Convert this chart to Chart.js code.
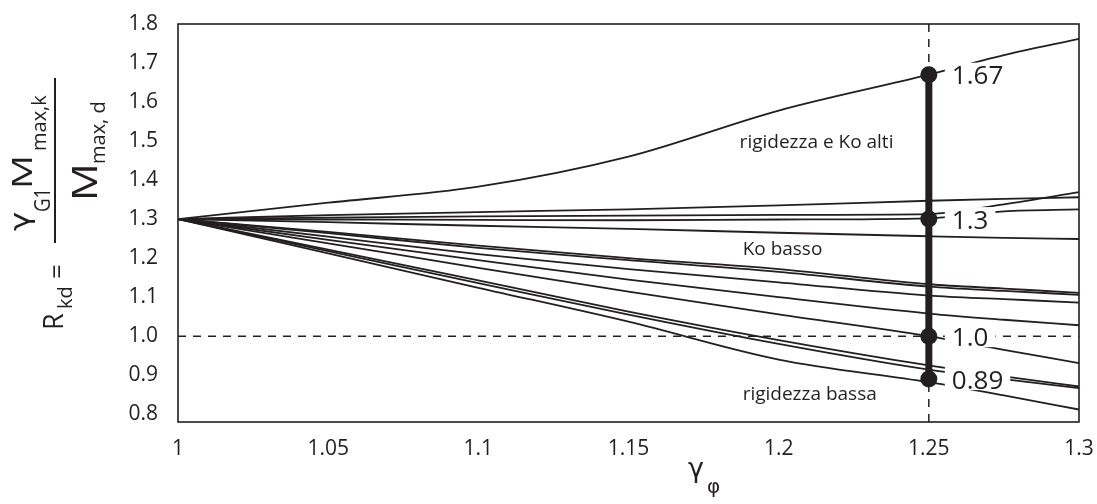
<!DOCTYPE html>
<html lang="it">
<head>
    <meta charset="UTF-8">
    <title>Rkd al variare di gamma phi</title>
    <script src="https://cdn.jsdelivr.net/npm/chart.js"></script>
    <style>
        body { margin: 0; background: #fff; }
    </style>
</head>
<body>
    <canvas id="rkdChart" width="1097" height="504"></canvas>

    <script>
        // gamma phi values where each curve was sampled
        const gammaPhi = [1, 1.05, 1.1, 1.15, 1.2, 1.25, 1.275, 1.3];

        // Rkd curves (top to bottom at gamma phi = 1.3)
        const rkdAlti   = [1.30, 1.342, 1.383, 1.46, 1.578, 1.67, 1.72, 1.762];
        const rkdB      = [1.30, 1.304, 1.307, 1.309, 1.311, 1.313, 1.338, 1.369];
        const rkdA      = [1.30, 1.31, 1.318, 1.325, 1.335, 1.347, 1.352, 1.356];
        const rkdC      = [1.30, 1.299, 1.298, 1.297, 1.299, 1.302, 1.32, 1.325];
        const rkdD      = [1.30, 1.292, 1.283, 1.275, 1.265, 1.256, 1.252, 1.249];
        const rkdE1     = [1.30, 1.267, 1.232, 1.20, 1.172, 1.133, 1.122, 1.111];
        const rkdE2     = [1.30, 1.264, 1.226, 1.195, 1.165, 1.127, 1.116, 1.106];
        const rkdF      = [1.30, 1.255, 1.21, 1.172, 1.138, 1.104, 1.095, 1.086];
        const rkdG      = [1.30, 1.247, 1.195, 1.145, 1.10, 1.058, 1.042, 1.028];
        const rkdH      = [1.30, 1.238, 1.175, 1.114, 1.056, 1.0, 0.965, 0.931];
        const rkdI      = [1.30, 1.222, 1.143, 1.063, 0.99, 0.925, 0.897, 0.871];
        const rkdJ      = [1.30, 1.218, 1.136, 1.055, 0.98, 0.914, 0.89, 0.867];
        const rkdBassa  = [1.30, 1.212, 1.124, 1.037, 0.94, 0.882, 0.848, 0.812];

        const curves = [rkdAlti, rkdB, rkdA, rkdC, rkdD, rkdE1, rkdE2, rkdF, rkdG, rkdH, rkdI, rkdJ, rkdBassa];

        // range marked at gamma phi = 1.25
        const markX = 1.25;
        const markValues = [0.89, 1.0, 1.3, 1.67];
        const markLabels = ['0.89', '1.0', '1.3', '1.67'];

        const refLine = 1.0;

        const xTicks = [1, 1.05, 1.1, 1.15, 1.2, 1.25, 1.3];
        const yTicks = [0.8, 0.9, 1.0, 1.1, 1.2, 1.3, 1.4, 1.5, 1.6, 1.7, 1.8];

        // text inside the plot: [text, gamma phi, Rkd]
        const notes = [
            ['rigidezza e Ko alti', 1.187, 1.495],
            ['Ko basso', 1.188, 1.221],
            ['rigidezza bassa', 1.188, 0.849]
        ];

        const ink = '#231f20';
        const font = '"Open Sans", sans-serif';
        const greek = '"DejaVu Sans", sans-serif';

        const toPoints = ys => gammaPhi.map((x, i) => ({ x: x, y: ys[i] }));

        const datasets = [];
        // thick bar with the four dots (drawn on top)
        datasets.push({
            data: markValues.map(v => ({ x: markX, y: v })),
            borderColor: ink,
            borderWidth: 7,
            pointRadius: 8.5,
            pointBackgroundColor: ink,
            pointBorderWidth: 0,
            tension: 0
        });
        curves.forEach(ys => {
            datasets.push({
                data: toPoints(ys),
                borderColor: ink,
                borderWidth: 1.8,
                pointRadius: 0,
                cubicInterpolationMode: 'monotone'
            });
        });
        // dashed reference lines
        datasets.push({
            data: [{ x: 1, y: refLine }, { x: 1.3, y: refLine }],
            borderColor: ink,
            borderWidth: 1.5,
            borderDash: [8, 7],
            pointRadius: 0
        });
        datasets.push({
            data: [{ x: markX, y: 0.78 }, { x: markX, y: 1.8 }],
            borderColor: ink,
            borderWidth: 1.5,
            borderDash: [8, 7],
            pointRadius: 0
        });

        function drawRot(ctx, s, size, Y, X, sx, family) {
            // rotated text: starts at screen y = Y and runs upward, baseline at screen x = X
            ctx.save();
            ctx.rotate(-Math.PI / 2);
            ctx.translate(-Y, X);
            ctx.scale(sx || 1, 1);
            ctx.font = size + 'px ' + (family || font);
            ctx.fillText(s, 0, 0);
            ctx.restore();
        }

        const decorations = {
            id: 'decorations',
            afterDatasetsDraw(chart) {
                const ctx = chart.ctx;
                const area = chart.chartArea;
                const xs = chart.scales.x;
                const ys = chart.scales.y;
                ctx.save();

                // value labels next to the dots
                ctx.font = '26px ' + font;
                ctx.textAlign = 'left';
                ctx.textBaseline = 'alphabetic';
                const px = xs.getPixelForValue(markX);
                markValues.forEach((v, i) => {
                    const py = ys.getPixelForValue(v);
                    const w = ctx.measureText(markLabels[i]).width;
                    ctx.fillStyle = '#fff';
                    ctx.fillRect(px + 16, py - 12, w + 14, 23);
                    ctx.fillStyle = ink;
                    ctx.fillText(markLabels[i], px + 23, py + 9.5);
                });

                // notes
                ctx.font = '19px ' + font;
                ctx.textBaseline = 'middle';
                notes.forEach(n => {
                    ctx.fillText(n[0], xs.getPixelForValue(n[1]), ys.getPixelForValue(n[2]));
                });

                // frame
                ctx.strokeStyle = ink;
                ctx.lineWidth = 1.6;
                ctx.strokeRect(area.left, area.top, area.right - area.left, area.bottom - area.top);

                // x title: gamma phi
                ctx.textBaseline = 'alphabetic';
                ctx.font = '27px ' + greek;
                ctx.fillText('γ', 688, 477);
                ctx.font = '20px ' + greek;
                ctx.fillText('φ', 707, 493);

                // y title: Rkd = gammaG1 Mmax,k / Mmax,d
                drawRot(ctx, 'R', 27, 330, 63);
                drawRot(ctx, 'kd', 20, 309, 72);
                drawRot(ctx, '=', 26, 279, 66);
                ctx.beginPath();
                ctx.moveTo(55, 243);
                ctx.lineTo(55, 78);
                ctx.lineWidth = 2;
                ctx.stroke();
                drawRot(ctx, 'γ', 27, 231, 29, 1.2, greek);
                drawRot(ctx, 'G1', 22, 212, 50, 0.85);
                drawRot(ctx, 'M', 28, 189, 32, 1.35);
                drawRot(ctx, 'max,k', 20, 151, 46);
                drawRot(ctx, 'M', 35, 201, 97, 1.2);
                drawRot(ctx, 'max, d', 20, 164, 105);

                ctx.restore();
            }
        };

        const tickStyle = { family: '"Open Sans", sans-serif', size: 21 };

        new Chart(document.getElementById('rkdChart'), {
            type: 'line',
            data: { datasets: datasets },
            options: {
                responsive: false,
                animation: false,
                layout: { padding: { top: 24, right: 18, left: 0, bottom: 0 } },
                plugins: { legend: { display: false }, tooltip: { enabled: false } },
                scales: {
                    x: {
                        type: 'linear',
                        min: 1,
                        max: 1.3,
                        grid: { display: false, drawTicks: false },
                        border: { display: false },
                        afterBuildTicks: s => { s.ticks = xTicks.map(v => ({ value: v })); },
                        afterFit: s => {
                            s.height = 82;
                            s.paddingLeft = 0;
                            s.paddingRight = 0;
                        },
                        ticks: {
                            color: ink,
                            font: tickStyle,
                            padding: 14,
                            maxRotation: 0,
                            callback: v => String(Number(v.toFixed(2)))
                        }
                    },
                    y: {
                        min: 0.78,
                        max: 1.8,
                        grid: { display: false, drawTicks: false },
                        border: { display: false },
                        afterBuildTicks: s => { s.ticks = yTicks.map(v => ({ value: v })); },
                        afterFit: s => {
                            s.width = 178;
                            s.paddingTop = 0;
                            s.paddingBottom = 0;
                        },
                        ticks: {
                            color: ink,
                            font: tickStyle,
                            padding: 20,
                            callback: v => v.toFixed(1)
                        }
                    }
                }
            },
            plugins: [decorations]
        });
    </script>
</body>
</html>
